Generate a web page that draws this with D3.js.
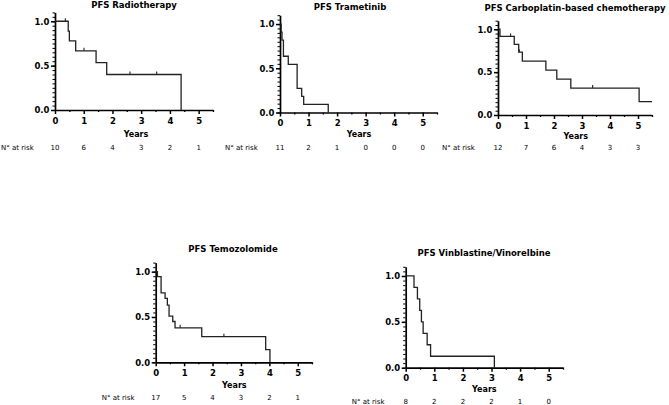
<!DOCTYPE html>
<html>
<head>
<meta charset="utf-8">
<script src="https://cdn.jsdelivr.net/npm/d3@7"></script>
<style>
  body { margin: 0; background: #fff; }
  svg { display: block; }
</style>
</head>
<body>
<svg id="chart"></svg>
<script>
// panel titles
const titles = ["PFS Radiotherapy", "PFS Trametinib", "PFS Carboplatin-based chemotherapy",
                "PFS Temozolomide", "PFS Vinblastine/Vinorelbine"];

// step points (time in years, survival fraction)
const radTime = [0, 0.46, 0.5, 0.72, 1.43, 1.8, 4.39];
const radSurv = [1, 0.889, 0.778, 0.667, 0.533, 0.4, 0];
const radCensT = [0.36, 1.01, 2.61, 3.54];
const radCensS = [1, 0.667, 0.4, 0.4];
const radRisk = [10, 6, 4, 3, 2, 1];

const traTime = [0, 0.04, 0.07, 0.12, 0.29, 0.6, 0.76, 0.83, 1.69];
const traSurv = [1, 0.909, 0.818, 0.636, 0.545, 0.273, 0.182, 0.091, 0];
const traCensT = [];
const traCensS = [];
const traRisk = [11, 2, 1, 0, 0, 0];

const carTime = [0, 0.07, 0.58, 0.74, 0.87, 1.71, 2.1, 2.6, 5.04, 5.5];
const carSurv = [1, 0.917, 0.825, 0.733, 0.629, 0.524, 0.419, 0.314, 0.157, 0.157];
const carCensT = [0.45, 0.76, 3.38];
const carCensS = [0.917, 0.733, 0.314];
const carRisk = [12, 7, 6, 4, 3, 3];

const temTime = [0, 0.06, 0.19, 0.33, 0.41, 0.47, 0.6, 0.68, 1.62, 3.87, 4.02];
const temSurv = [1, 0.945, 0.765, 0.706, 0.63, 0.51, 0.45, 0.38, 0.283, 0.14, 0];
const temCensT = [0.86, 2.4];
const temCensS = [0.38, 0.283];
const temRisk = [17, 5, 4, 3, 2, 1];

const vinTime = [0, 0.29, 0.41, 0.49, 0.55, 0.61, 0.75, 0.87, 3.1];
const vinSurv = [1, 0.875, 0.75, 0.625, 0.5, 0.375, 0.25, 0.125, 0];
const vinCensT = [];
const vinCensS = [];
const vinRisk = [8, 2, 2, 2, 1, 0];

const xTicks = [0, 1, 2, 3, 4, 5];
const yTicks = [0, 0.5, 1.0];

const series = [
  [radTime, radSurv, radCensT, radCensS, radRisk],
  [traTime, traSurv, traCensT, traCensS, traRisk],
  [carTime, carSurv, carCensT, carCensS, carRisk],
  [temTime, temSurv, temCensT, temCensS, temRisk],
  [vinTime, vinSurv, vinCensT, vinCensS, vinRisk]
];

// where each panel sits on the page
const layout = [
  {left: 55, right: 213, top: 12.4, bottom: 110, tx: 134, ty: 8, yx: 136, yy: 136.5, rx: 1, ry: 149.5},
  {left: 280, right: 437, top: 15.2, bottom: 112.5, tx: 350, ty: 9.5, yx: 359, yy: 136.5, rx: 225, ry: 149.5},
  {left: 498, right: 652, top: 20.7, bottom: 115, tx: 575, ty: 10.5, yx: 575.7, yy: 139, rx: 442, ry: 150},
  {left: 155.7, right: 312, top: 262.6, bottom: 362.3, tx: 233, ty: 252, yx: 234.3, yy: 387.5, rx: 101.7, ry: 399.5},
  {left: 405.7, right: 563, top: 266.8, bottom: 367.7, tx: 484, ty: 256, yx: 484.3, yy: 392, rx: 351.7, ry: 404}
];

const width = 669, height = 405;
const svg = d3.select("#chart")
    .attr("width", width)
    .attr("height", height)
    .attr("viewBox", [0, 0, width, height]);

const boldFont = "'DejaVu Sans', Verdana, sans-serif";

layout.forEach((p, i) => {
  const [times, surv, censT, censS, risk] = series[i];
  const x = d3.scaleLinear().domain([0, 5.5]).range([p.left, p.right]);
  const y = d3.scaleLinear().domain([0, 1.1]).range([p.bottom, p.top]);
  const g = svg.append("g");

  // minor ticks
  g.append("g")
      .attr("transform", `translate(0,${p.bottom})`)
      .call(d3.axisBottom(x).tickValues(d3.range(0.5, 5.6, 1)).tickSize(2).tickFormat(""))
      .call(g => g.select(".domain").remove())
      .selectAll("line").attr("stroke-width", 1.3);
  g.append("g")
      .attr("transform", `translate(${p.left},0)`)
      .call(d3.axisLeft(y).tickValues(d3.range(0, 1.101, 0.05)).tickSize(2.5).tickFormat(""))
      .call(g => g.select(".domain").remove())
      .selectAll("line").attr("stroke-width", 1);

  const xAxis = g.append("g")
      .attr("transform", `translate(0,${p.bottom})`)
      .call(d3.axisBottom(x).tickValues(xTicks).tickSize(4).tickSizeOuter(0).tickPadding(3.5).tickFormat(d3.format("d")));
  const yAxis = g.append("g")
      .attr("transform", `translate(${p.left},0)`)
      .call(d3.axisLeft(y).tickValues(yTicks).tickSize(4).tickSizeOuter(0).tickPadding(1.5).tickFormat(d3.format(".1f")));

  [xAxis, yAxis].forEach(a => {
    a.select(".domain").attr("stroke-width", 1.7);
    a.selectAll("line").attr("stroke-width", 1.5);
    a.selectAll("text")
        .style("font-family", boldFont)
        .style("font-weight", "bold")
        .style("font-size", "8.5px")
        .attr("fill", "#000");
  });

  // KM curve
  const pts = times.map((t, k) => [t, surv[k]]);
  g.append("path")
      .datum(pts)
      .attr("fill", "none")
      .attr("stroke", "#222")
      .attr("stroke-width", 1.3)
      .attr("d", d3.line().x(d => x(d[0])).y(d => y(d[1])).curve(d3.curveStepAfter));

  // censor marks
  g.append("g")
      .selectAll("line")
      .data(censT.map((t, k) => [t, censS[k]]))
      .join("line")
      .attr("x1", d => x(d[0])).attr("x2", d => x(d[0]))
      .attr("y1", d => y(d[1])).attr("y2", d => y(d[1]) - 3)
      .attr("stroke", "#222")
      .attr("stroke-width", 1.1);

  g.append("text")
      .attr("x", p.tx).attr("y", p.ty)
      .attr("text-anchor", "middle")
      .style("font-family", boldFont)
      .style("font-weight", "bold")
      .style("font-size", "8.5px")
      .text(titles[i]);

  g.append("text")
      .attr("x", p.yx).attr("y", p.yy)
      .attr("text-anchor", "middle")
      .style("font-family", boldFont)
      .style("font-weight", "bold")
      .style("font-size", "8px")
      .text("Years");

  g.append("text")
      .attr("x", p.rx).attr("y", p.ry)
      .style("font-family", boldFont)
      .style("font-size", "7px")
      .text("N° at risk");

  g.append("g")
      .style("font-family", boldFont)
      .style("font-size", "7px")
      .attr("text-anchor", "middle")
      .selectAll("text")
      .data(risk)
      .join("text")
      .attr("x", (d, k) => x(xTicks[k]))
      .attr("y", p.ry)
      .text(d => d);
});
</script>
</body>
</html>
